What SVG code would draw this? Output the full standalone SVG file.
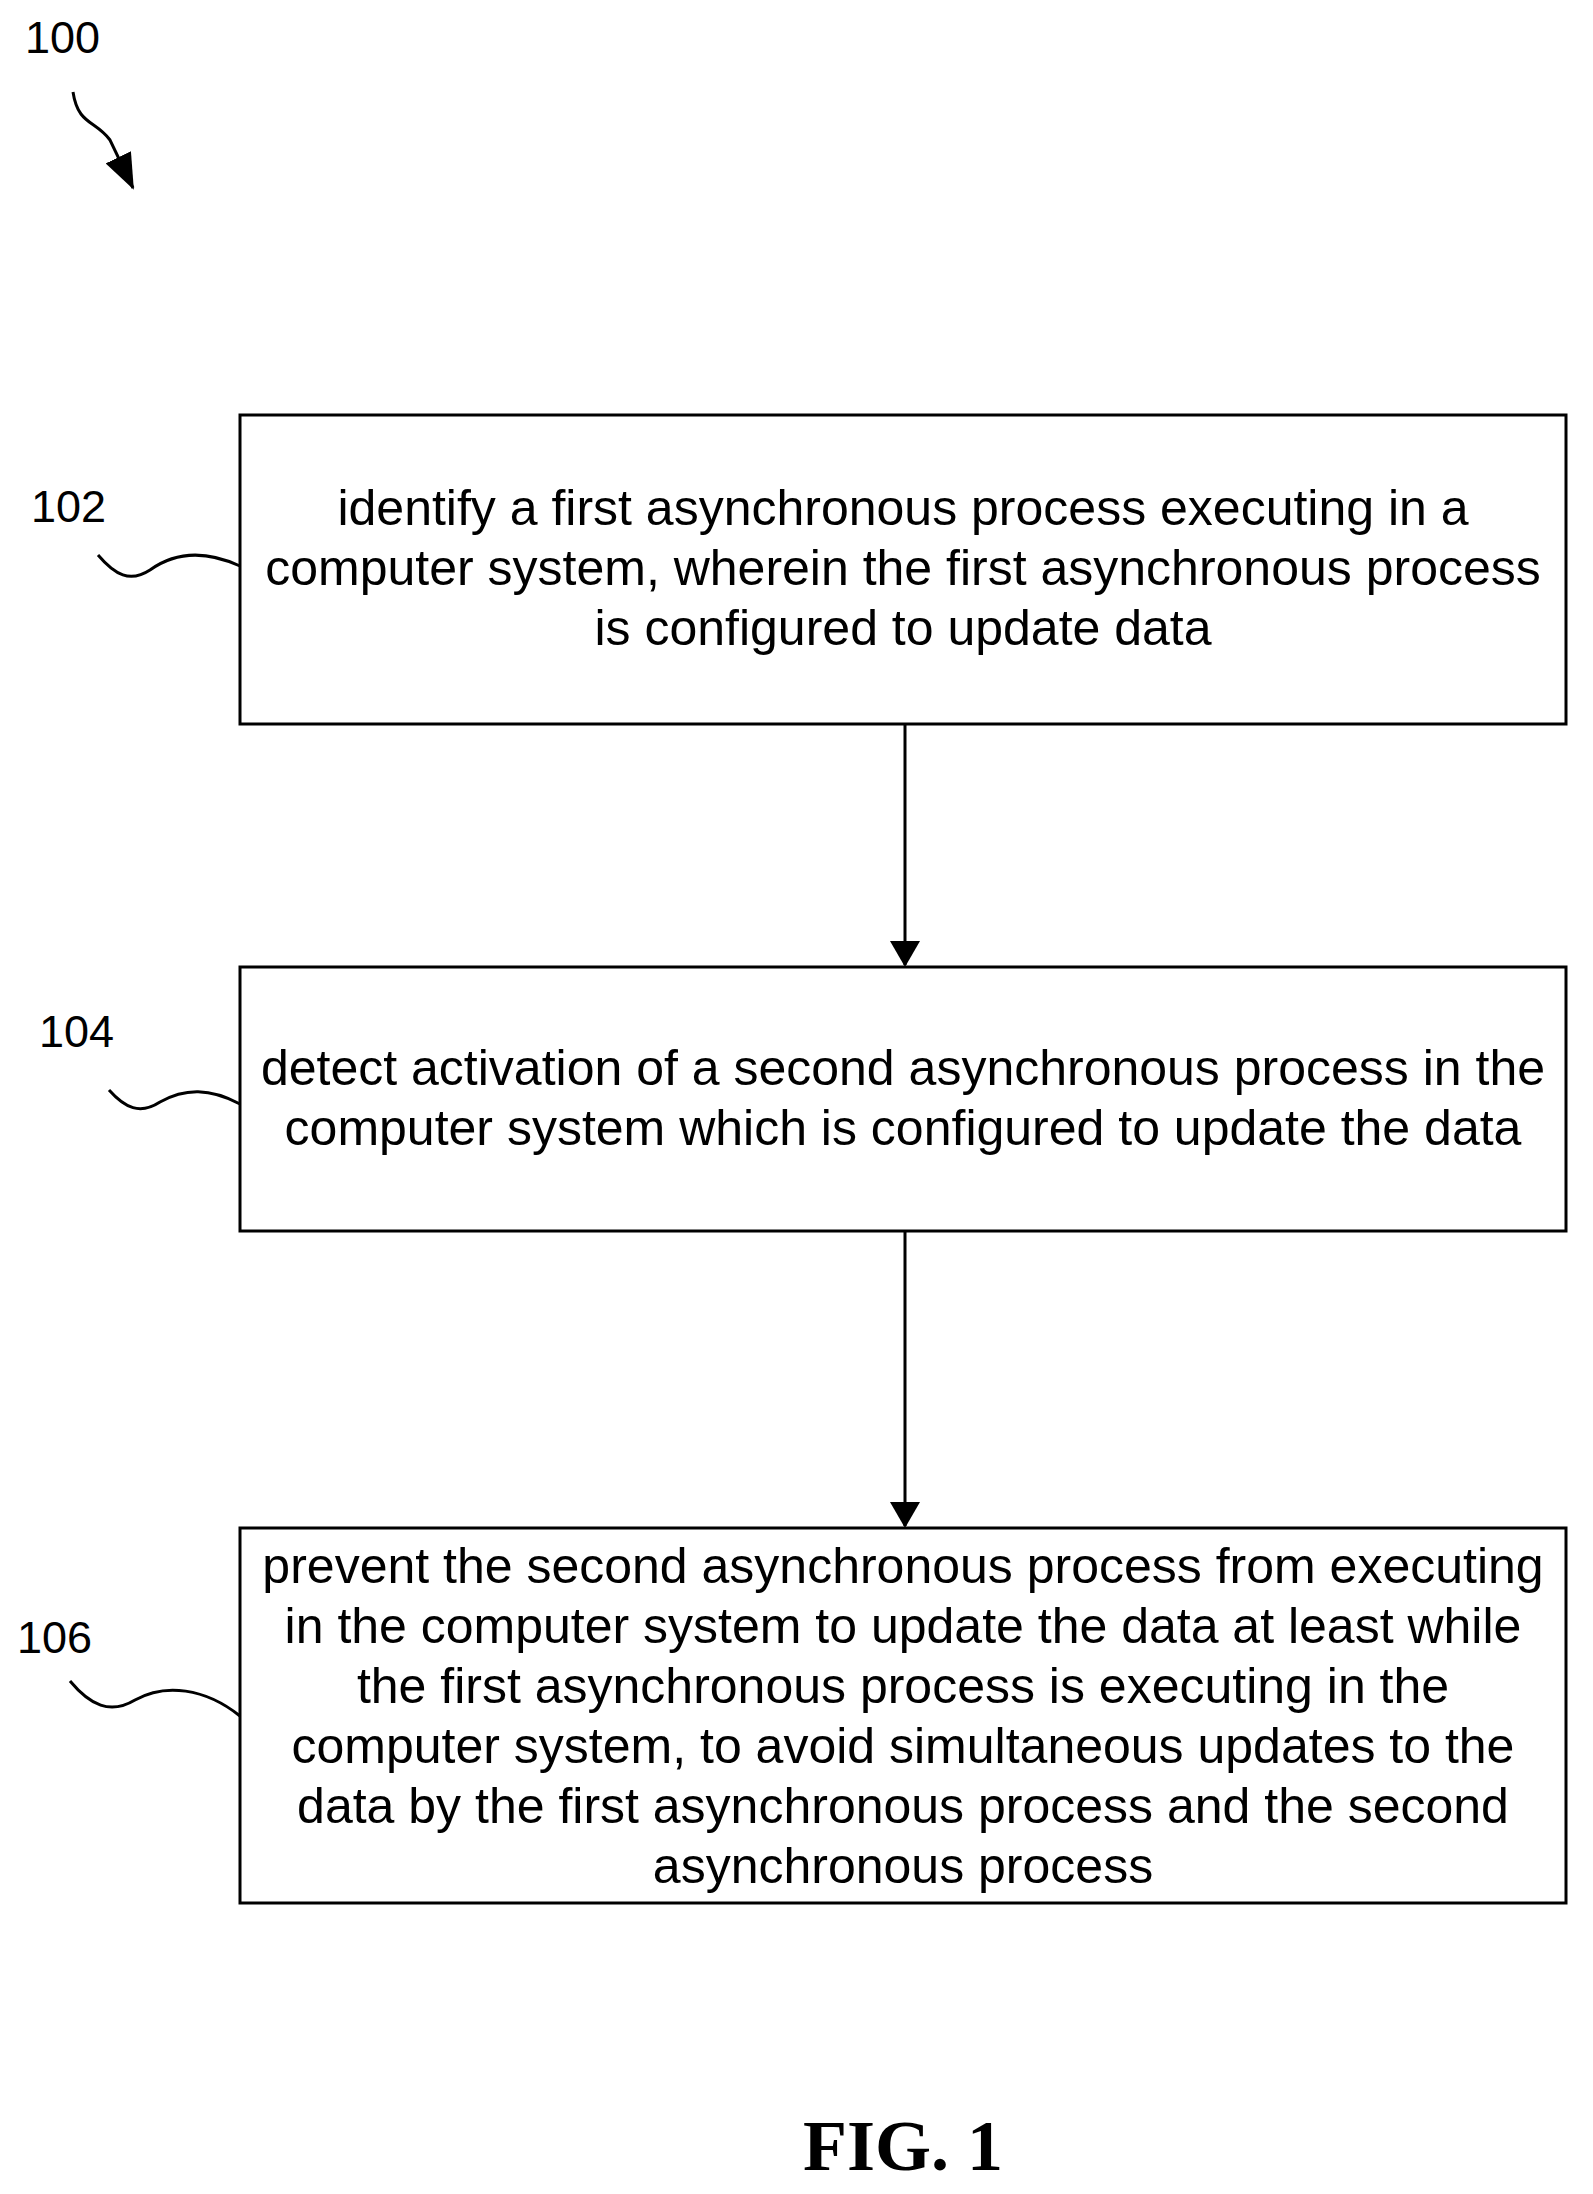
<svg xmlns="http://www.w3.org/2000/svg" width="1593" height="2194" viewBox="0 0 1593 2194">
<style>
.box{fill:#fff;stroke:#000;stroke-width:3}
.t{font-family:"Liberation Sans",Arial,sans-serif;font-size:50px;text-anchor:middle;fill:#000}
.lbl{font-family:"Liberation Sans",Arial,sans-serif;font-size:45px;fill:#000}
.c{fill:none;stroke:#000;stroke-width:3}
</style>
<defs>
<marker id="ah2" viewBox="0 0 26 30" refX="24" refY="15" markerWidth="26" markerHeight="30" orient="auto" markerUnits="userSpaceOnUse"><path d="M0,0 L26,15 L0,30 Z" fill="#000"/></marker>
<marker id="ah3" viewBox="0 0 36 28" refX="34" refY="14" markerWidth="36" markerHeight="28" orient="auto" markerUnits="userSpaceOnUse"><path d="M0,0 L36,14 L0,28 Z" fill="#000"/></marker>
</defs>
<rect width="1593" height="2194" fill="#fff"/>
<g id="label100">
<text class="lbl" x="25" y="53">100</text>
<path class="c" d="M73,92 C78,125 95,120 110,140 L133,188" marker-end="url(#ah3)"/>
</g>
<g id="n102">
<rect class="box" x="240" y="415" width="1326" height="309"/>
<text class="t" x="903" y="525">identify a first asynchronous process executing in a</text>
<text class="t" x="903" y="585">computer system, wherein the first asynchronous process</text>
<text class="t" x="903" y="645">is configured to update data</text>
<text class="lbl" x="31" y="522">102</text>
</g>
<g id="n104">
<rect class="box" x="240" y="967" width="1326" height="264"/>
<text class="t" x="903" y="1085">detect activation of a second asynchronous process in the</text>
<text class="t" x="903" y="1145">computer system which is configured to update the data</text>
<text class="lbl" x="39" y="1047">104</text>
</g>
<g id="n106">
<rect class="box" x="240" y="1528" width="1326" height="375"/>
<text class="t" x="903" y="1583">prevent the second asynchronous process from executing</text>
<text class="t" x="903" y="1643">in the computer system to update the data at least while</text>
<text class="t" x="903" y="1703">the first asynchronous process is executing in the</text>
<text class="t" x="903" y="1763">computer system, to avoid simultaneous updates to the</text>
<text class="t" x="903" y="1823">data by the first asynchronous process and the second</text>
<text class="t" x="903" y="1883">asynchronous process</text>
<text class="lbl" x="17" y="1653">106</text>
</g>
<g id="connectors">
<path class="c" d="M98,555 C115,575 130,583 150,570 C175,552 205,550 240,566"/>
<path class="c" d="M109,1090 C125,1108 140,1115 160,1102 C185,1088 210,1088 240,1104"/>
<path class="c" d="M70,1681 C90,1705 110,1715 135,1700 C165,1683 205,1688 240,1716"/>
<line x1="905" y1="724" x2="905" y2="965" stroke="#000" stroke-width="3" marker-end="url(#ah2)"/>
<line x1="905" y1="1231" x2="905" y2="1526" stroke="#000" stroke-width="3" marker-end="url(#ah2)"/>
</g>
<text x="903" y="2170" font-family="Liberation Serif,Times New Roman,serif" font-weight="bold" font-size="72" text-anchor="middle">FIG. 1</text>
</svg>
